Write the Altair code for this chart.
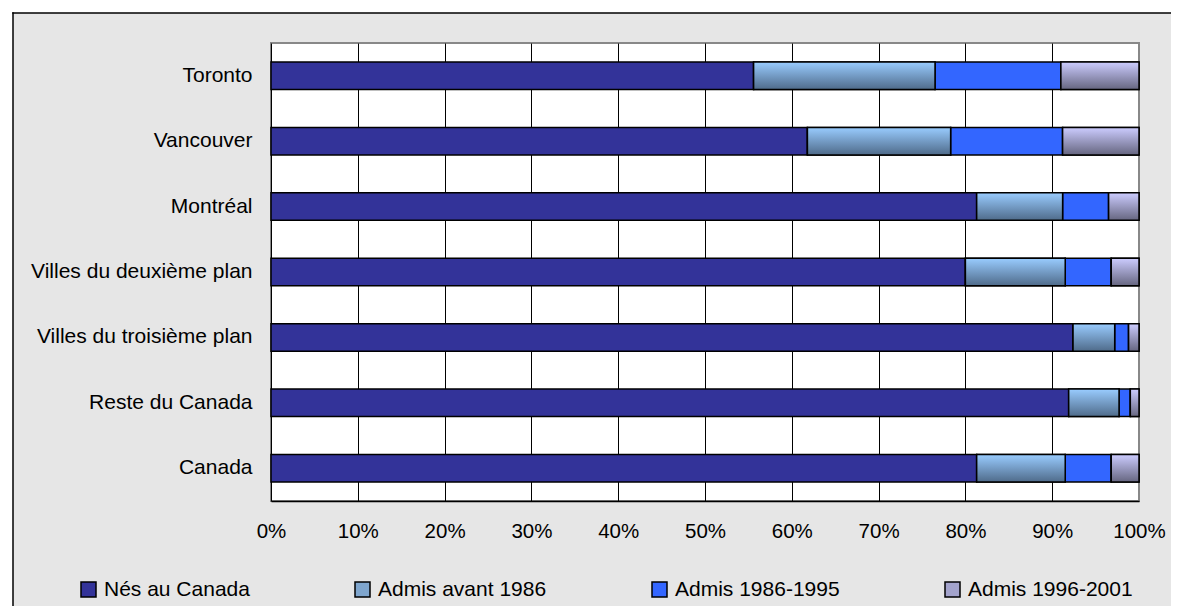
import altair as alt
import pandas as pd

cities = ["Toronto", "Vancouver", "Montréal", "Villes du deuxième plan",
          "Villes du troisième plan", "Reste du Canada", "Canada"]
series = ["Nés au Canada", "Admis avant 1986", "Admis 1986-1995", "Admis 1996-2001"]
nes = [55.6, 61.8, 81.3, 80.0, 92.4, 91.9, 81.3]
avant = [20.9, 16.5, 9.9, 11.5, 4.8, 5.8, 10.2]
a8695 = [14.5, 12.9, 5.3, 5.3, 1.6, 1.3, 5.3]
a9601 = [9.0, 8.8, 3.5, 3.2, 1.2, 1.0, 3.2]
ticks = [0, 0.1, 0.2, 0.3, 0.4, 0.5, 0.6, 0.7, 0.8, 0.9, 1.0]

rows = []
for i, c in enumerate(cities):
    for j, (s, vals) in enumerate(zip(series, [nes, avant, a8695, a9601])):
        rows.append({"city": c, "series": s, "order": j, "value": vals[i]})
df = pd.DataFrame(rows)

FONT = "Liberation Sans"
FS = 21

def grad(top, bottom):
    return alt.Gradient(gradient="linear",
                        stops=[alt.GradientStop(color=top, offset=0),
                               alt.GradientStop(color=bottom, offset=1)],
                        x1=0, x2=0, y1=0, y2=1)

base = alt.Chart(df).transform_stack(
    stack="value", groupby=["city"], as_=["x0", "x1"],
    sort=[alt.SortField("order")], offset="normalize")

y_axis = alt.Axis(title=None, ticks=False, domain=False, labelFontSize=FS,
                  labelColor="black", labelFont=FONT, labelPadding=19, labelLimit=400)
x_axis = alt.Axis(title=None, values=ticks, format=".0%", grid=True,
                  gridColor={"condition": {"test": "datum.value >= 1", "value": "#888888"}, "value": "black"},
                  gridWidth=1, gridOpacity=1, ticks=False, domain=True,
                  domainColor="black", domainWidth=1.5, labelFontSize=20.5,
                  labelColor="black", labelFont=FONT, labelPadding=20, labelFlush=False)
y_scale = alt.Scale(paddingInner=0.58, paddingOuter=0.29)
x_scale = alt.Scale(domain=[0, 1], nice=False)

bars = base.mark_bar(stroke="black", strokeWidth=1.5).encode(
    y=alt.Y("city:N", sort=cities, scale=y_scale, axis=y_axis),
    x=alt.X("x0:Q", scale=x_scale, axis=x_axis),
    x2="x1:Q",
    fill=alt.Fill("series:N",
                  scale=alt.Scale(domain=series, range=["#333399", "#7FA6CE", "#3366FF", "#A3A3CC"]),
                  legend=alt.Legend(title=None, orient="none", legendX=-193, legendY=536,
                                    direction="horizontal", columnPadding=102,
                                    symbolType="square", symbolSize=225,
                                    symbolStrokeColor="black", symbolStrokeWidth=1.5,
                                    symbolOpacity=1, labelFontSize=FS, labelFont=FONT,
                                    labelColor="black", labelOffset=5, padding=0,
                                    labelLimit=400)),
)

def overlay(name, g):
    return base.transform_filter(alt.datum.series == name).mark_bar(
        fill=g, stroke="black", strokeWidth=1.5).encode(
        y=alt.Y("city:N", sort=cities, scale=y_scale, axis=y_axis),
        x=alt.X("x0:Q", scale=x_scale, axis=x_axis),
        x2="x1:Q")

ov1 = overlay("Admis avant 1986", grad("#99CCFF", "#4F6B8A"))
ov2 = overlay("Admis 1996-2001", grad("#CCCCFF", "#666680"))

frame_df = pd.DataFrame({"k": [0]})
white_top = alt.Chart(frame_df).mark_rule(stroke="white", strokeWidth=10).encode(
    x=alt.value(-280), x2=alt.value(900), y=alt.value(-35))
white_left = alt.Chart(frame_df).mark_rule(stroke="white", strokeWidth=10).encode(
    x=alt.value(-263), y=alt.value(-50), y2=alt.value(570))
black_top = alt.Chart(frame_df).mark_rule(stroke="black", strokeWidth=1.5).encode(
    x=alt.value(-258.75), x2=alt.value(900), y=alt.value(-30))
black_left = alt.Chart(frame_df).mark_rule(stroke="black", strokeWidth=1.5).encode(
    x=alt.value(-258), y=alt.value(-30.75), y2=alt.value(570))

chart = alt.layer(white_top, white_left, black_top, black_left, bars, ov1, ov2).properties(
    width=868, height=458,
    autosize=alt.AutoSizeParams(type="none"),
    padding={"left": 263, "top": 35, "right": 32, "bottom": 105},
    background="#e6e6e6",
).configure_view(fill="white", stroke="#888888", strokeWidth=2)

chart.save("out.html", embed_options={"renderer": "svg", "actions": False})
